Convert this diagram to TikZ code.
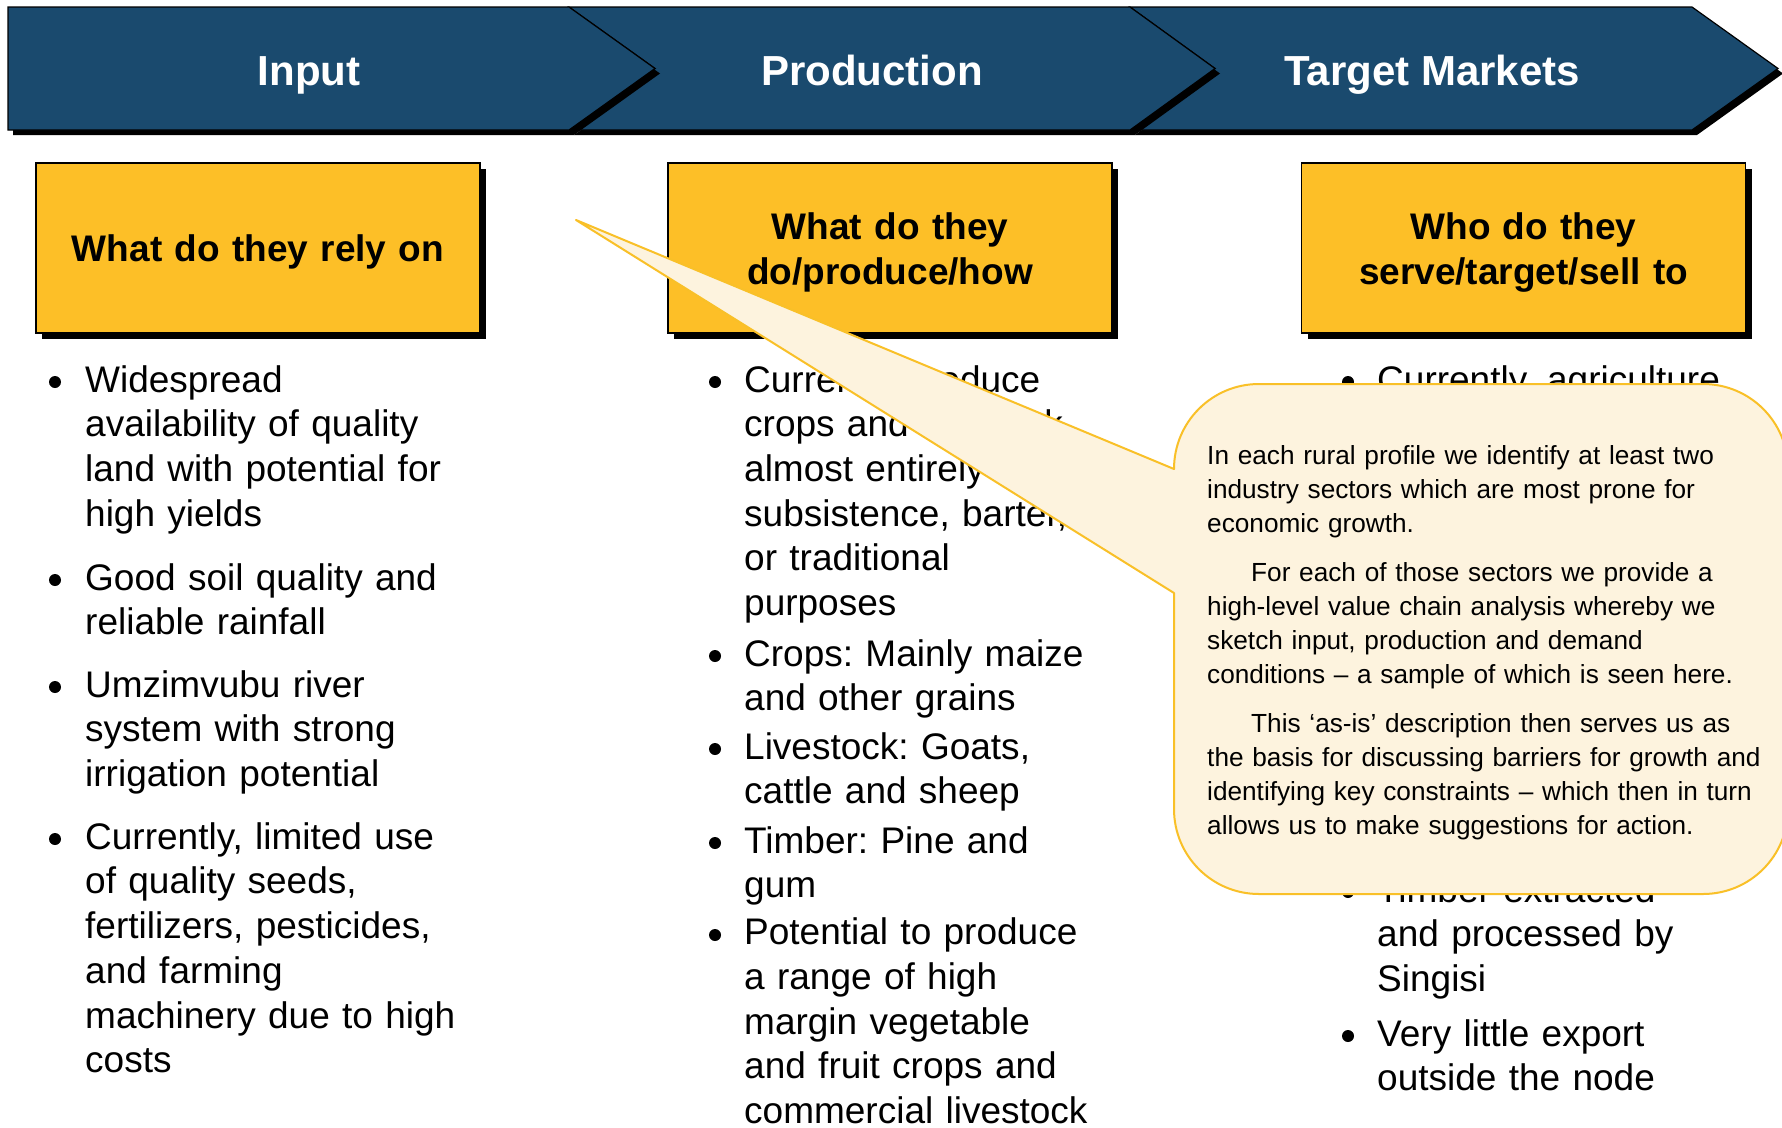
\documentclass[tikz,border=0pt]{standalone}
\usepackage{fontspec}
\setmainfont{Liberation Sans}
\usetikzlibrary{shadows}
\definecolor{bannerblue}{RGB}{26,74,110}
\definecolor{boxyellow}{RGB}{253,191,39}
\definecolor{callfill}{RGB}{253,243,222}
\definecolor{callline}{RGB}{249,192,40}
\frenchspacing
\begin{document}
\begin{tikzpicture}[x=1pt,y=-1pt,
  chev/.style={fill=bannerblue, draw=black, line width=1.2pt, line join=miter},
  chevshadow/.style={fill=black},
  headtxt/.style={text=white, font=\bfseries\fontsize{42}{50}\selectfont, anchor=base, inner sep=0pt},
  titlebox/.style={draw=black, line width=1.5pt, fill=boxyellow, minimum width=444pt, minimum height=170pt, inner sep=0pt,
    drop shadow={shadow xshift=6pt, shadow yshift=-6pt, opacity=1, fill=black}},
  titletxt/.style={font=\bfseries\fontsize{37}{45}\selectfont, align=center, text width=440pt, anchor=north, inner sep=0pt, execute at begin node=\strut},
  bodytxt/.style={font=\fontsize{37}{44.7}\selectfont, align=left, text width=470pt, anchor=north west, inner sep=0pt, execute at begin node=\strut},
  dot/.style={circle, fill=black, inner sep=0pt, minimum size=12pt},
  callout/.style={fill=callfill, draw=callline, line width=2pt, line join=round},
  calltxt/.style={font=\fontsize{26.2}{34}\selectfont, align=left, text width=575pt, anchor=north west, inner sep=0pt, execute at begin node=\strut},
]
\useasboundingbox (0,0) rectangle (1782,1127);
\fill[white] (0,0) rectangle (1782,1127);

% banner chevrons (drawn right to left so shadows overlap correctly)
\fill[chevshadow, shift={(5,5)}] (1130,7) -- (1692,7) -- (1778,68.5) -- (1692,130) -- (1130,130) -- (1215,68.5) -- cycle;
\draw[chev] (1130,7) -- (1692,7) -- (1778,68.5) -- (1692,130) -- (1130,130) -- (1215,68.5) -- cycle;
\fill[chevshadow, shift={(5,5)}] (569,7) -- (1130,7) -- (1215,68.5) -- (1130,130) -- (569,130) -- (655,68.5) -- cycle;
\draw[chev] (569,7) -- (1130,7) -- (1215,68.5) -- (1130,130) -- (569,130) -- (655,68.5) -- cycle;
\fill[chevshadow, shift={(5,5)}] (8,7) -- (569,7) -- (655,68.5) -- (569,130) -- (8,130) -- cycle;
\draw[chev] (8,7) -- (569,7) -- (655,68.5) -- (569,130) -- (8,130) -- cycle;

\node[headtxt] (hinput) at (309,85.5) {Input};
\node[headtxt] (hprod) at (872,85.5) {Production};
\node[headtxt] (hmark) at (1432,85.5) {Target Markets};

% title boxes
\node[titlebox] (box1) at (258,248) {};
\node[titlebox] (box2) at (890,248) {};
\node[titlebox] (box3) at (1523.5,248) {};
\node[titletxt] (t1) at (258,229.3) {What do they rely on};
\node[titletxt] (t2) at (890,207.5) {What do they\\do/produce/how};
\node[titletxt] (t3) at (1523.5,207.5) {Who do they\\serve/target/sell to};

% column 1
\node[dot] (d11) at (55,382) {};
\node[bodytxt] (c11) at (85,360.7) {Widespread\\availability of quality\\land with potential for\\high yields};
\node[dot] (d12) at (55,580) {};
\node[bodytxt] (c12) at (85,558.7) {Good soil quality and\\reliable rainfall};
\node[dot] (d13) at (55,687) {};
\node[bodytxt] (c13) at (85,665.7) {Umzimvubu river\\system with strong\\irrigation potential};
\node[dot] (d14) at (55,839) {};
\node[bodytxt] (c14) at (85,817.7) {Currently, limited use\\of quality seeds,\\fertilizers, pesticides,\\and farming\\machinery due to high\\costs};

% column 2
\node[dot] (d21) at (715,382) {};
\node[bodytxt] (c21) at (744,360.7) {Currently produce\\crops and livestock\\almost entirely for\\subsistence, barter,\\or traditional\\purposes};
\node[dot] (d22) at (715,656) {};
\node[bodytxt] (c22) at (744,634.7) {Crops: Mainly maize\\and other grains};
\node[dot] (d23) at (715,749) {};
\node[bodytxt] (c23) at (744,727.7) {Livestock: Goats,\\cattle and sheep};
\node[dot] (d24) at (715,843) {};
\node[bodytxt] (c24) at (744,821.7) {Timber: Pine and\\gum};
\node[dot] (d25) at (715,935) {};
\node[bodytxt] (c25) at (744,913.2) {Potential to produce\\a range of high\\margin vegetable\\and fruit crops and\\commercial livestock};

% column 3
\node[dot] (d31) at (1348,382) {};
\node[bodytxt] (c31) at (1377,360.7) {Currently, agriculture};
\node[dot] (d32) at (1348,892) {};
\node[bodytxt] (c32) at (1377,870.7) {Timber extracted\\and processed by\\Singisi};
\node[dot] (d33) at (1348,1036) {};
\node[bodytxt] (c33) at (1377,1014.7) {Very little export\\outside the node};

% callout
\coordinate (tip) at (576,220);
\draw[callout] (tip) -- (1174,469) .. controls (1174,422) and (1212,384) .. (1259,384)
  -- (1703,384) .. controls (1750,384) and (1788,422) .. (1788,469)
  -- (1788,809) .. controls (1788,856) and (1750,894) .. (1703,894)
  -- (1259,894) .. controls (1212,894) and (1174,856) .. (1174,809)
  -- (1174,593) -- cycle;
\node[calltxt] (p1) at (1207,440.2) {In each rural profile we identify at least two\\industry sectors which are most prone for\\economic growth.};
\node[calltxt] (p2) at (1207,557.2) {\hspace*{44pt}For each of those sectors we provide a\\high-level value chain analysis whereby we\\sketch input, production and demand\\conditions – a sample of which is seen here.};
\node[calltxt] (p3) at (1207,708.2) {\hspace*{44pt}This ‘as-is’ description then serves us as\\the basis for discussing barriers for growth and\\identifying key constraints – which then in turn\\allows us to make suggestions for action.};
\end{tikzpicture}
\end{document}
